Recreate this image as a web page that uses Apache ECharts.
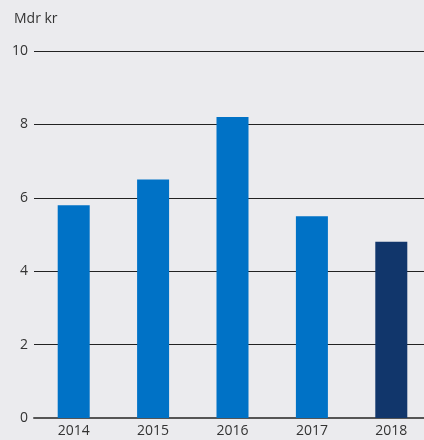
<!DOCTYPE html>
<html>
<head>
<meta charset="utf-8">
<script src="https://cdn.jsdelivr.net/npm/echarts@6/dist/echarts.min.js"></script>
<style>
  html, body { margin: 0; padding: 0; background: #ebebee; }
  #chart { width: 424px; height: 440px; }
</style>
</head>
<body>
<div id="chart"></div>
<script>
let years = ['2014', '2015', '2016', '2017', '2018'];
let values = [5.8, 6.5, 8.2, 5.5, 4.8];
let barColors = ['#0072c6', '#0072c6', '#0072c6', '#0072c6', '#11366b'];
let yTicks = [0, 2, 4, 6, 8, 10];

let myChart = echarts.init(document.getElementById('chart'));
let option = {
    backgroundColor: '#ebebee',
    textStyle: { fontFamily: 'Open Sans' },
    title: {
        text: 'Mdr kr',
        left: 9,
        top: 7,
        textStyle: { fontSize: 14, fontWeight: 'normal', color: '#333', fontFamily: 'Open Sans' }
    },
    // plot area runs past the right edge, like the original
    grid: { left: 34, width: 397, top: 51, bottom: 22, outerBoundsMode: 'none' },
    xAxis: {
        type: 'category',
        data: years,
        axisTick: { show: false },
        axisLine: { lineStyle: { color: '#555', width: 2 } },
        axisLabel: { color: '#333', fontSize: 14, margin: 6 }
    },
    yAxis: {
        type: 'value',
        min: yTicks[0],
        max: yTicks[yTicks.length - 1],
        interval: 2,
        axisLine: { show: false },
        axisTick: { show: false },
        axisLabel: { color: '#333', fontSize: 14, margin: 6 },
        splitLine: { lineStyle: { color: '#222', width: 1 } }
    },
    series: [{
        type: 'bar',
        barWidth: 32,
        data: values.map((v, i) => ({ value: v, itemStyle: { color: barColors[i] } }))
    }]
};
myChart.setOption(option);
</script>
</body>
</html>
